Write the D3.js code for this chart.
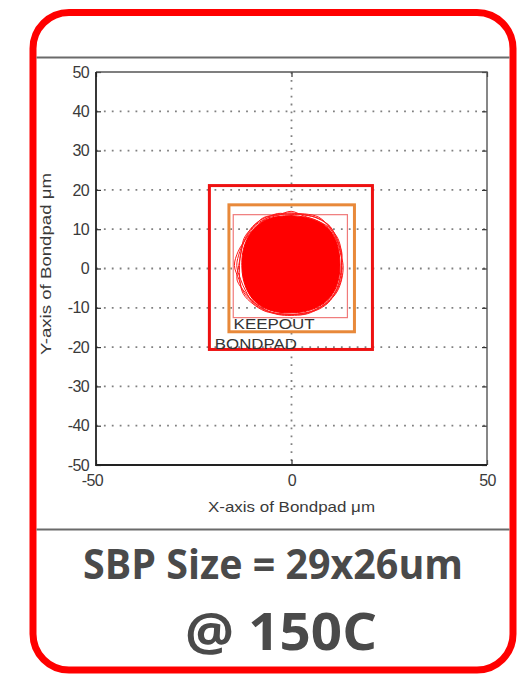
<!DOCTYPE html>
<html>
<head>
<meta charset="utf-8">
<script src="https://cdn.jsdelivr.net/npm/d3@7"></script>
<style>
  html, body { margin: 0; padding: 0; background: #ffffff; }
  svg { display: block; }
</style>
</head>
<body>
<svg id="chart" width="526" height="675"></svg>
<script>
// ---------- data ----------
const xDomain = [-50, 50];
const yDomain = [-50, 50];
const xTicks = [-50, 0, 50];
const yTicks = [-50, -40, -30, -20, -10, 0, 10, 20, 30, 40, 50];
const gridXValues = [0];
const gridYValues = [-40, -30, -20, -10, 0, 10, 20, 30, 40];

// boxes in µm: [xMin, xMax, yMin, yMax]
const bondpadBox = [-21.0, 20.7, -20.6, 21.1];
const keepoutBox = [-16.0, 16.1, -16.1, 16.2];
const sbpBox = [-14.9, 14.3, -12.5, 13.7];

// blob (ball footprint traces) – centre and radii in µm at 15° steps from +x, counter-clockwise
const blobCenter = [-0.1, 0.75];
const blobAngles = [0, 15, 30, 45, 60, 75, 90, 105, 120, 135, 150, 165, 180, 195, 210, 225, 240, 255, 270, 285, 300, 315, 330, 345];
const blobCore = [12.5, 12.7, 13.1, 13.4, 13.2, 12.8, 12.7, 12.9, 13.3, 13.3, 13.1, 12.8, 12.6, 12.7, 12.9, 13.0, 12.7, 12.3, 12.0, 12.2, 12.5, 12.8, 12.8, 12.6];
const blobTraces = [
  [13.0, 13.1, 13.6, 14.0, 13.9, 13.3, 13.4, 13.5, 13.9, 14.0, 13.6, 13.6, 13.9, 13.4, 13.3, 13.6, 13.2, 12.6, 12.4, 12.6, 12.9, 13.3, 13.3, 13.0],
  [12.8, 13.3, 13.8, 13.7, 13.2, 13.0, 13.8, 13.2, 13.6, 13.8, 13.9, 13.2, 13.4, 14.3, 13.6, 13.3, 13.0, 12.8, 12.5, 12.5, 13.1, 13.4, 13.1, 12.9],
  [13.3, 13.0, 13.4, 14.1, 13.8, 13.4, 13.0, 13.7, 13.5, 13.4, 13.4, 14.0, 14.5, 13.8, 13.9, 13.4, 13.1, 12.9, 12.7, 12.8, 12.8, 13.2, 13.5, 13.4],
  [12.9, 13.4, 13.3, 13.8, 14.2, 13.6, 13.2, 13.3, 14.1, 13.7, 13.5, 13.3, 13.2, 13.6, 14.2, 13.8, 13.4, 12.7, 12.4, 12.9, 13.0, 13.0, 13.2, 13.3]
];

const boxLabels = [
  { text: "KEEPOUT", x: -14.8, y: -15.3, len: 81 },
  { text: "BONDPAD", x: -19.6, y: -20.5, len: 82 }
];
const xLabel = "X-axis of Bondpad \u03bcm";
const yLabel = "Y-axis of Bondpad \u03bcm";
const captionLines = ["SBP Size = 29x26um", "@ 150C"];

// ---------- drawing ----------
const svg = d3.select("#chart");

// panel frame
svg.append("rect")
  .attr("x", 33).attr("y", 12.5).attr("width", 480).attr("height", 657.5)
  .attr("rx", 36).attr("ry", 36)
  .attr("fill", "#ffffff").attr("stroke", "#ff0000").attr("stroke-width", 7);

svg.append("line").attr("x1", 36.5).attr("x2", 509.5).attr("y1", 57.5).attr("y2", 57.5)
  .attr("stroke", "#6a6a6a").attr("stroke-width", 2);
svg.append("line").attr("x1", 36.5).attr("x2", 509.5).attr("y1", 529.5).attr("y2", 529.5)
  .attr("stroke", "#6a6a6a").attr("stroke-width", 2);

const plot = { left: 96, right: 487, top: 72, bottom: 465 };
const x = d3.scaleLinear().domain(xDomain).range([plot.left, plot.right]);
const y = d3.scaleLinear().domain(yDomain).range([plot.bottom, plot.top]);

// grid
const grid = svg.append("g").attr("stroke", "#808080").attr("stroke-width", 1.8)
  .attr("stroke-dasharray", "1.8,6.1");
grid.selectAll("line.gy").data(gridYValues).join("line").attr("class", "gy")
  .attr("x1", plot.left).attr("x2", plot.right)
  .attr("y1", d => y(d)).attr("y2", d => y(d));
grid.selectAll("line.gx").data(gridXValues).join("line").attr("class", "gx")
  .attr("y1", plot.top).attr("y2", plot.bottom)
  .attr("x1", d => x(d)).attr("x2", d => x(d));

function boxRect(g, b, color, width) {
  g.append("rect")
    .attr("x", x(b[0])).attr("y", y(b[3]))
    .attr("width", x(b[1]) - x(b[0])).attr("height", y(b[2]) - y(b[3]))
    .attr("fill", "none").attr("stroke", color).attr("stroke-width", width);
}

const marks = svg.append("g");
boxRect(marks, sbpBox, "#f07a7a", 1.2);

// blob
function polarPoints(radii) {
  return radii.map((r, i) => {
    const a = blobAngles[i] * Math.PI / 180;
    return [x(blobCenter[0] + r * Math.cos(a)), y(blobCenter[1] + r * Math.sin(a))];
  });
}
const closedLine = d3.line().curve(d3.curveCatmullRomClosed.alpha(0.5));
marks.append("path").attr("d", closedLine(polarPoints(blobCore)))
  .attr("fill", "#ff0000").attr("stroke", "#ff0000").attr("stroke-width", 1);
marks.selectAll("path.trace").data(blobTraces).join("path").attr("class", "trace")
  .attr("d", d => closedLine(polarPoints(d)))
  .attr("fill", "none").attr("stroke", "#ff1a1a").attr("stroke-width", 1);

boxRect(marks, keepoutBox, "#e8893a", 3);
boxRect(marks, bondpadBox, "#ee1111", 3);

marks.selectAll("text.boxlabel").data(boxLabels).join("text").attr("class", "boxlabel")
  .attr("x", d => x(d.x)).attr("y", d => y(d.y))
  .attr("textLength", d => d.len).attr("lengthAdjust", "spacingAndGlyphs")
  .attr("font-family", "Liberation Sans, Arial, sans-serif").attr("font-size", 14)
  .attr("fill", "#333333").text(d => d.text);

// axes
const tickFont = "Liberation Sans, Arial, sans-serif";
const fmt = d => String(d);
const yAxisG = svg.append("g").attr("transform", `translate(${plot.left},0)`)
  .call(d3.axisLeft(y).tickValues(yTicks).tickFormat(fmt).tickSizeInner(-5).tickSizeOuter(0).tickPadding(7));
const yAxisR = svg.append("g").attr("transform", `translate(${plot.right},0)`)
  .call(d3.axisRight(y).tickValues(yTicks).tickFormat("").tickSizeInner(-5).tickSizeOuter(0));
const xAxisG = svg.append("g").attr("transform", `translate(0,${plot.bottom})`)
  .call(d3.axisBottom(x).tickValues(xTicks).tickFormat(fmt).tickSizeInner(-5).tickSizeOuter(0).tickPadding(10));
const xAxisT = svg.append("g").attr("transform", `translate(0,${plot.top})`)
  .call(d3.axisTop(x).tickValues(xTicks).tickFormat("").tickSizeInner(-5).tickSizeOuter(0));
[yAxisG, yAxisR, xAxisG, xAxisT].forEach(g => {
  g.select(".domain").remove();
  g.selectAll(".tick line").attr("stroke", "#333333").attr("stroke-width", 1.2);
  g.selectAll(".tick text").attr("font-family", tickFont).attr("font-size", 16)
    .attr("fill", "#3a3a3a").attr("letter-spacing", -0.6);
});
xAxisG.selectAll(".tick text").attr("dy", "0.71em")
  .attr("dx", d => d < 0 ? -4 : 0);

// plot box: left/bottom darker, top/right lighter
svg.append("path")
  .attr("d", `M${plot.left},${plot.top}H${plot.right}V${plot.bottom}`)
  .attr("fill", "none").attr("stroke", "#555555").attr("stroke-width", 1.4);
svg.append("path")
  .attr("d", `M${plot.left},${plot.top}V${plot.bottom}H${plot.right}`)
  .attr("fill", "none").attr("stroke", "#222222").attr("stroke-width", 1.8);

// axis labels
svg.append("text").attr("x", (plot.left + plot.right) / 2).attr("y", 512)
  .attr("text-anchor", "middle").attr("font-family", tickFont).attr("font-size", 15)
  .attr("textLength", 167).attr("lengthAdjust", "spacingAndGlyphs")
  .attr("fill", "#3a3a3a").text(xLabel);
svg.append("text").attr("transform", `translate(51,264) rotate(-90)`)
  .attr("text-anchor", "middle").attr("font-family", tickFont).attr("font-size", 15)
  .attr("textLength", 182).attr("lengthAdjust", "spacingAndGlyphs")
  .attr("fill", "#3a3a3a").text(yLabel);

// caption
svg.append("text").attr("x", 83).attr("y", 579)
  .attr("font-family", "Open Sans, sans-serif").attr("font-weight", 700).attr("font-size", 41)
  .attr("textLength", 380).attr("lengthAdjust", "spacingAndGlyphs")
  .attr("fill", "#4a4a4a").text(captionLines[0]);
svg.append("text").attr("x", 185).attr("y", 650)
  .attr("font-family", "Open Sans, sans-serif").attr("font-weight", 700).attr("font-size", 52)
  .attr("textLength", 192).attr("lengthAdjust", "spacingAndGlyphs")
  .attr("fill", "#4a4a4a").text(captionLines[1]);
</script>
</body>
</html>
